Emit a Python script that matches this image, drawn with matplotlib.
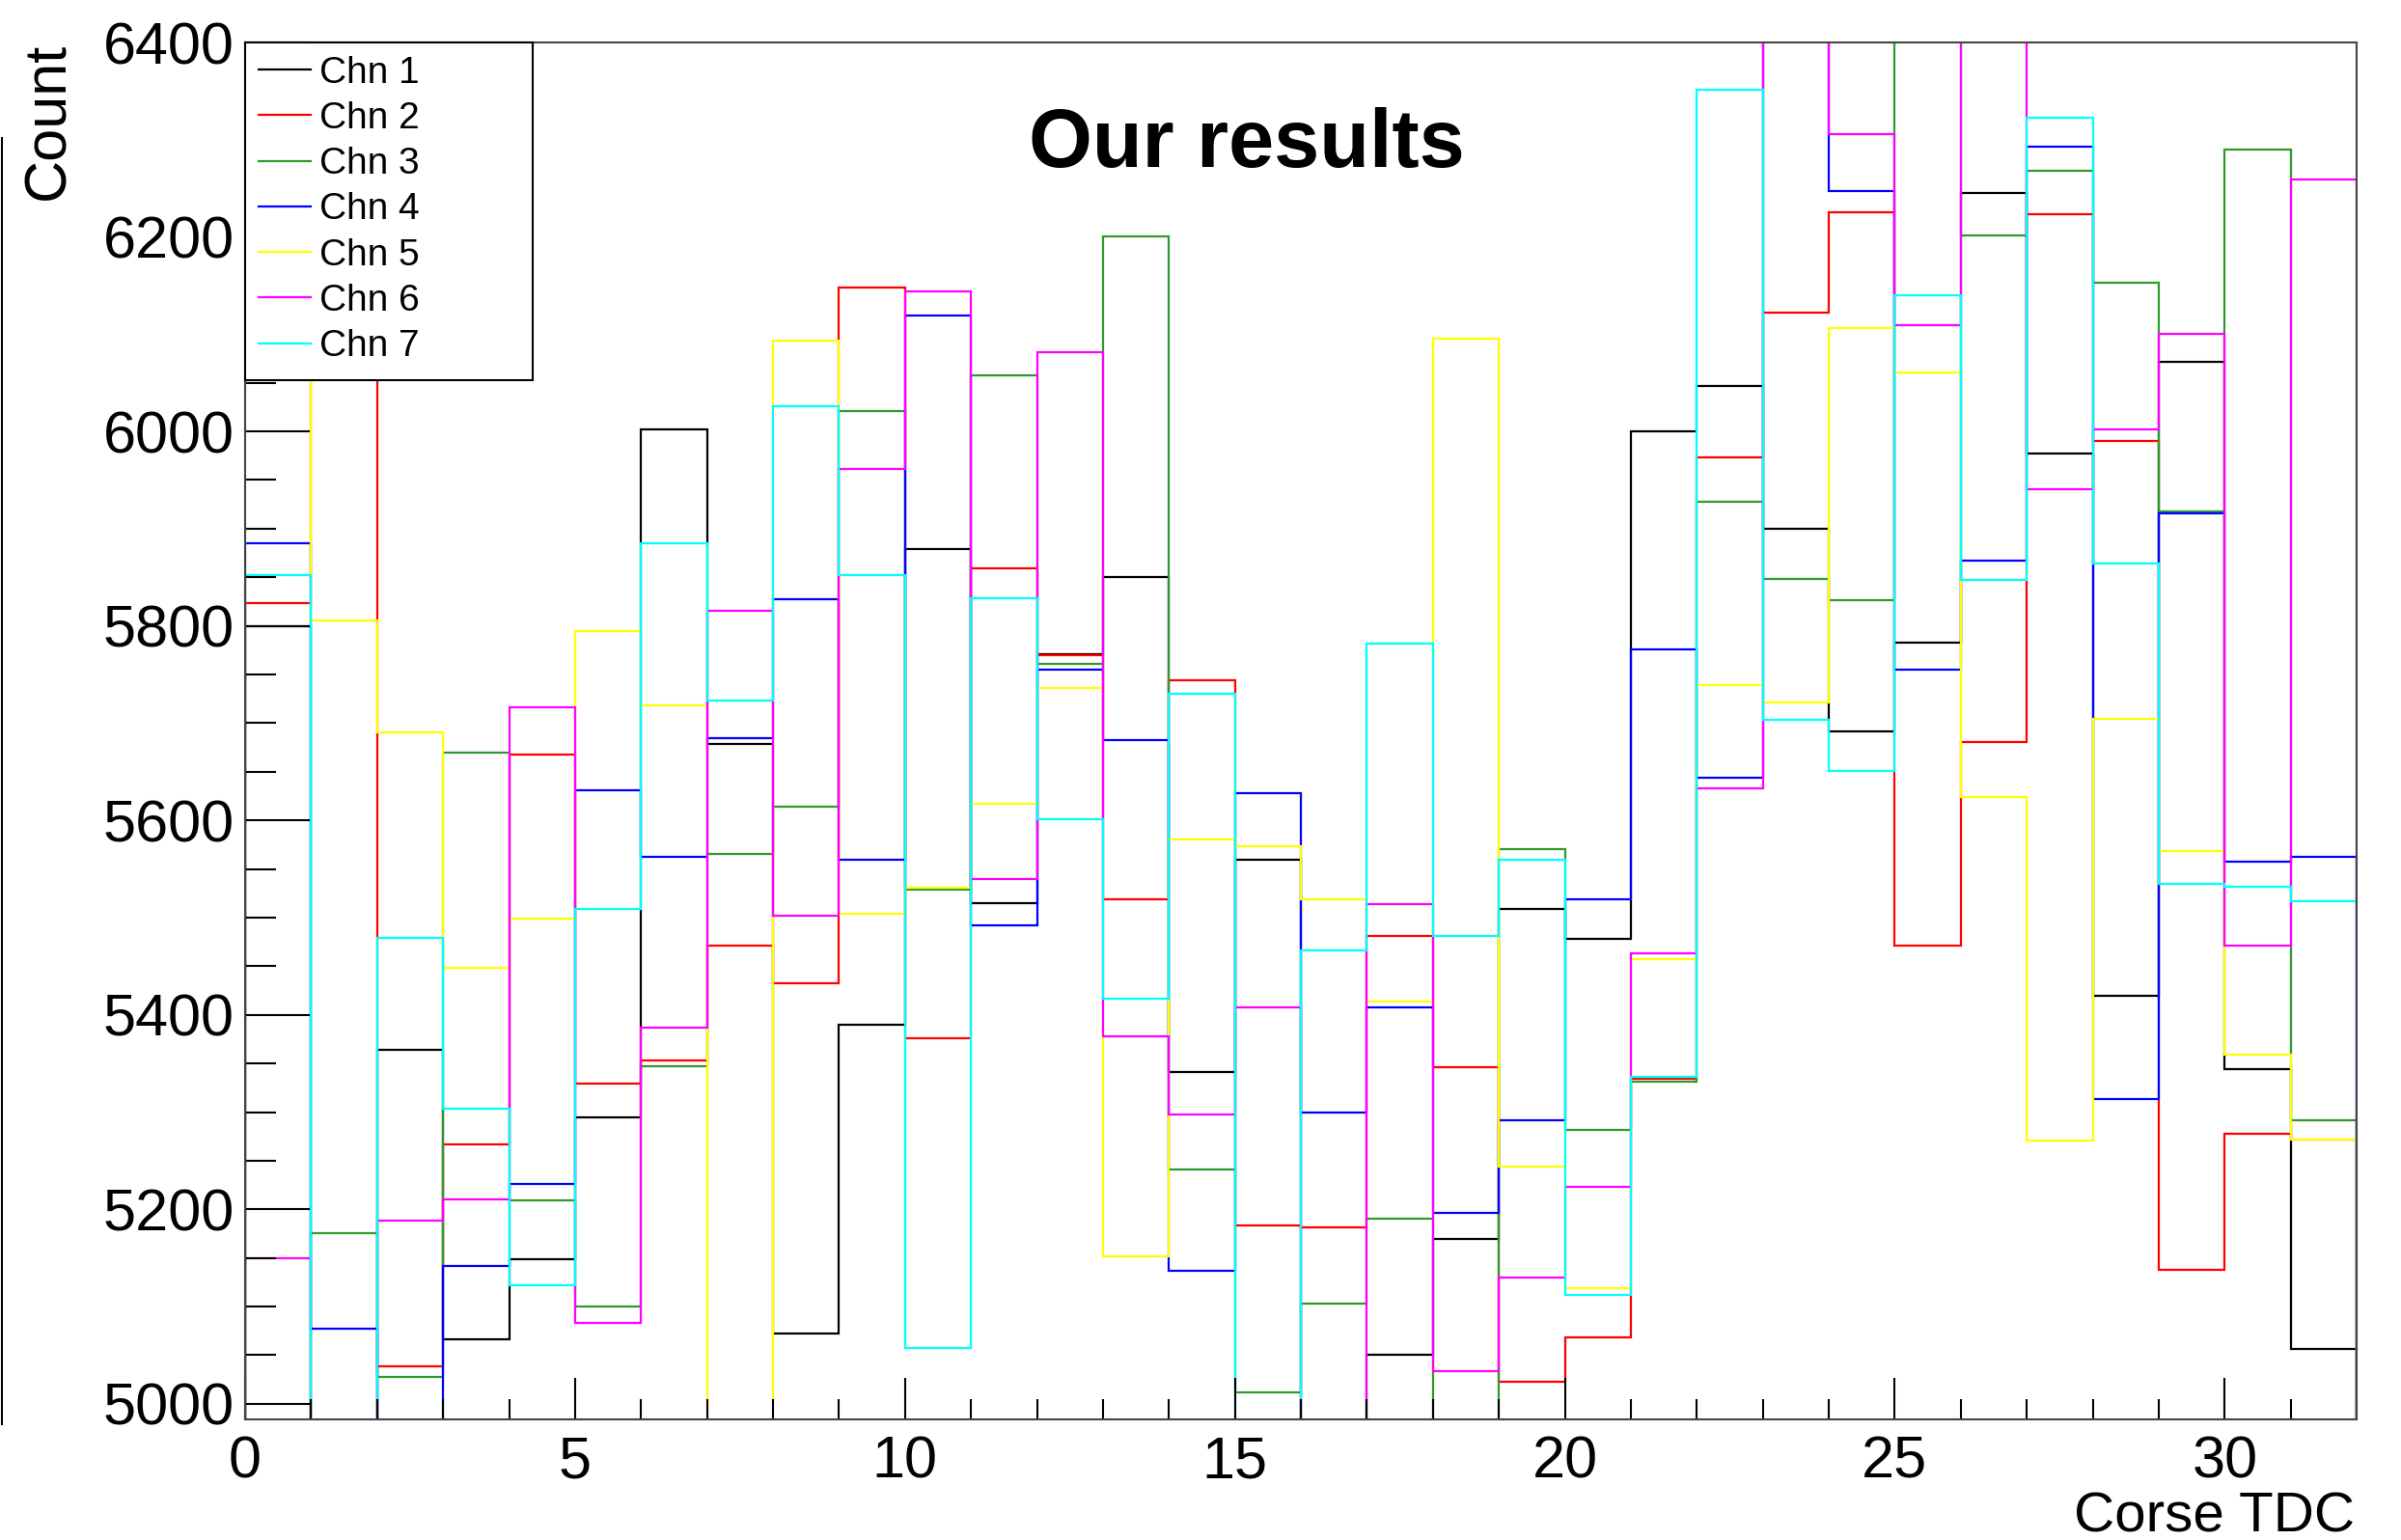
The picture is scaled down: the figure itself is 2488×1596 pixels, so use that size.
import matplotlib.pyplot as plt
import numpy as np
from matplotlib.patches import Rectangle
from matplotlib.lines import Line2D

plt.rcParams['font.family'] = ['Liberation Sans', 'DejaVu Sans']

# coarse TDC bins 0..32
edges = np.arange(0, 33)

# counts per bin (values outside 5000-6400 are clipped in the picture)
chn1 = [5800, 4960, 5364, 5066, 5149, 5295, 6002, 5679, 5072, 5390, 5879, 5515, 5771, 5850, 5341, 5560,
        4960, 5050, 5170, 5509, 5478, 6000, 6047, 5900, 5692, 5783, 6245, 5977, 5420, 6072, 5344, 5056]
chn2 = [5823, 6250, 5039, 5267, 5668, 5329, 5353, 5471, 5433, 6148, 5376, 5859, 5770, 5519, 5744, 5183,
        5181, 5481, 5346, 5023, 5068, 5334, 5973, 6122, 6225, 5471, 5681, 6223, 5990, 5138, 5278, 5272]
chn3 = [4960, 5176, 5028, 5670, 5209, 5100, 5347, 5565, 5614, 6021, 5529, 6058, 5761, 6201, 5241, 5012,
        5103, 5190, 4960, 5570, 5282, 5331, 5928, 5848, 5826, 6450, 6202, 6268, 6153, 5918, 6290, 5292]
chn4 = [5885, 5077, 4960, 5142, 5226, 5631, 5563, 5685, 5827, 5560, 6119, 5492, 5755, 5683, 5137, 5628,
        5300, 5408, 5196, 5292, 5519, 5776, 5644, 6450, 6247, 5755, 5867, 6293, 5313, 5916, 5558, 5563]
chn5 = [6150, 5806, 5691, 5448, 5499, 5795, 5718, 4960, 6093, 5504, 5531, 5617, 5736, 5152, 5580, 5573,
        5519, 5414, 6095, 5244, 5119, 5457, 5739, 5721, 6106, 6061, 5624, 5271, 5704, 5568, 5359, 5272]
chn6 = [5150, 4960, 5188, 5210, 5716, 5083, 5387, 5816, 5502, 5961, 6144, 5540, 6081, 5378, 5298, 5408,
        4960, 5514, 5034, 5130, 5223, 5463, 5633, 6450, 6306, 6109, 6450, 5941, 6002, 6100, 5471, 6259]
chn7 = [5852, 4960, 5479, 5304, 5122, 5509, 5885, 5723, 6026, 5852, 5057, 5828, 5601, 5417, 5730, 4960,
        5466, 5782, 5481, 5560, 5112, 5336, 6351, 5703, 5651, 6140, 5847, 6323, 5864, 5535, 5532, 5517]

channels = [chn1, chn2, chn3, chn4, chn5, chn6, chn7]
labels = ["Chn 1", "Chn 2", "Chn 3", "Chn 4", "Chn 5", "Chn 6", "Chn 7"]
colors = ["black", "#ff0000", "#2e9a2e", "#0000ff", "#ffff00", "#ff00ff", "#00ffff"]

fig = plt.figure(figsize=(24.88, 15.96), dpi=100)
ax = fig.add_axes([254 / 2488, 1 - 1471 / 1596, (2442 - 254) / 2488, (1471 - 44) / 1596])

for vals, lab, col in zip(channels, labels, colors):
    ax.stairs(vals, edges, baseline=4900, color=col, lw=1.6, label=lab)

ax.set_xlim(0, 32)
ax.set_ylim(4984, 6400)

ax.set_xticks(np.arange(0, 31, 5))
ax.set_xticks(np.arange(0, 33, 1), minor=True)
ax.set_yticks(np.arange(5000, 6401, 200))
ax.set_yticks(np.arange(5000, 6401, 50), minor=True)

ax.tick_params(axis='y', which='major', direction='in', length=48, width=1.5, labelsize=44, pad=8)
ax.tick_params(axis='y', which='minor', direction='in', length=23, width=1.5)
ax.tick_params(axis='x', which='major', direction='in', length=31, width=1.5, labelsize=44, pad=12)
ax.tick_params(axis='x', which='minor', direction='in', length=15, width=1.5)

for s in ax.spines.values():
    s.set_linewidth(1.5)
    s.set_color('#444444')

# legend box (ROOT style, white filled, square corners)
ax.add_patch(Rectangle((0, 0.7547), 0.1362, 0.2453, transform=ax.transAxes,
                       facecolor='white', edgecolor='black', lw=1.5, zorder=5, clip_on=False))
leg = ax.legend(loc='upper left', bbox_to_anchor=(0, 1), borderaxespad=0, frameon=False,
                fontsize=28, handlelength=1.4, handletextpad=0.22, borderpad=0.35, labelspacing=0.29)
leg.set_zorder(6)

ax.text(0.4744, 0.925, "Our results", transform=ax.transAxes, ha='center', va='center',
        fontsize=61, fontweight='bold')

fig.text(51 / 2488, 1 - 44 / 1596, "Count", rotation=90, ha='center', va='top', fontsize=44)
fig.text(2440 / 2488, 1 - 1587 / 1596, "Corse TDC", ha='right', va='baseline', fontsize=42)

# thin line at the left edge of the screenshot
fig.add_artist(Line2D([0.001, 0.001], [1 - 143 / 1596, 1 - 1476 / 1596], color='black', lw=1.5))

fig.savefig("out.png", dpi=100)
